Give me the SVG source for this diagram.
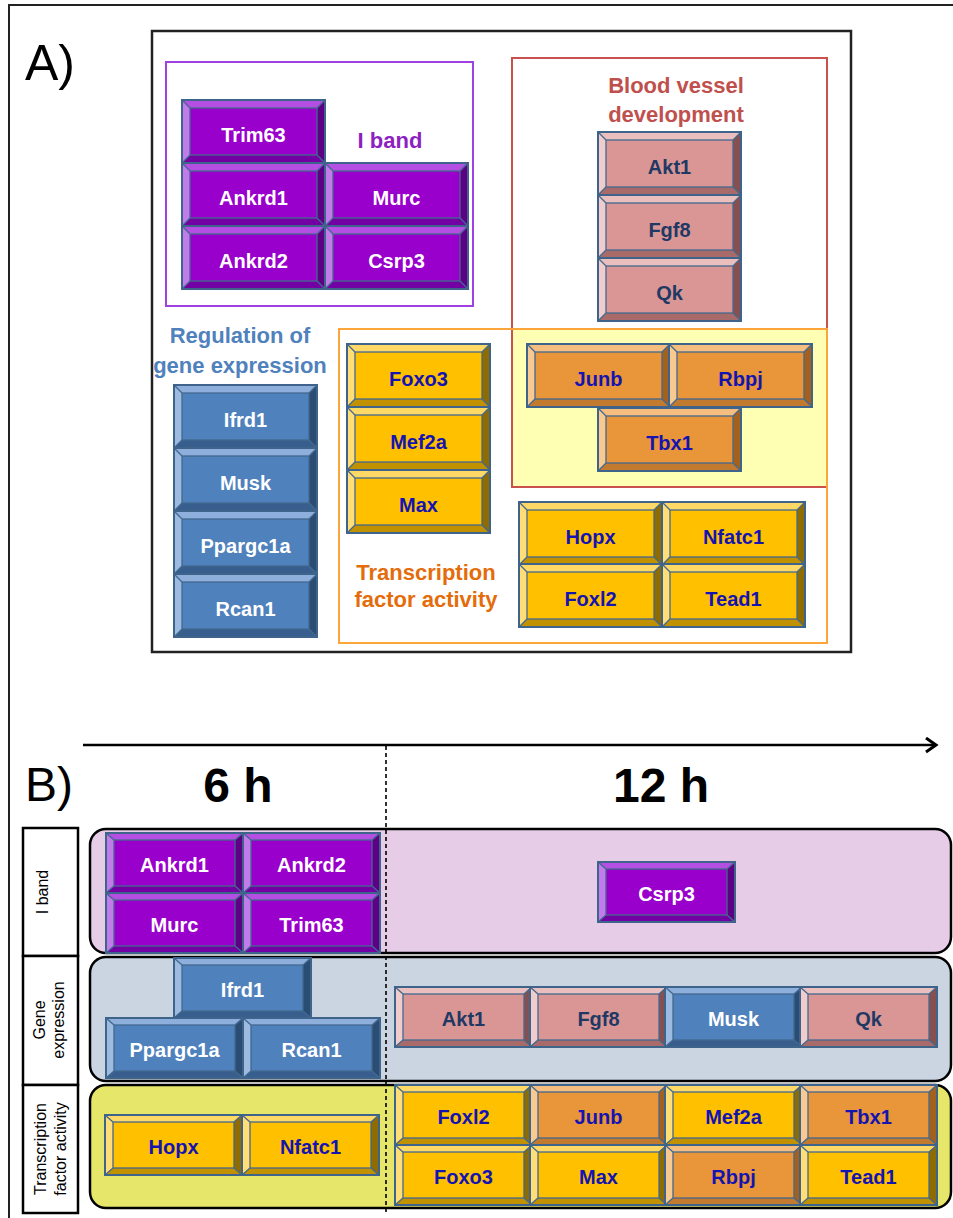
<svg xmlns="http://www.w3.org/2000/svg" xmlns:xlink="http://www.w3.org/1999/xlink" width="953" height="1218" viewBox="0 0 953 1218">
<style>
.frame{fill:none;stroke:#222;stroke-width:2}
.boxA{fill:none;stroke:#222;stroke-width:2.5}
.bf{fill:none;stroke:#42698F;stroke-width:1.3}
.bl{fill:none;stroke:#42698F;stroke-width:1.3}
.bo{fill:none;stroke:#3E648C;stroke-width:2}
.purple{--f:#9900CC;--t:#B54FE3;--l:#C27BEB;--r:#5E0085;--b:#7200A3}
.blue{--f:#4F81BD;--t:#8EAEDB;--l:#9DBBE0;--r:#2B4C73;--b:#385E8E}
.pink{--f:#D99694;--t:#EBBFBE;--l:#F0CDCC;--r:#85504F;--b:#A86B6A}
.gold{--f:#FFC000;--t:#FFD966;--l:#FFDD77;--r:#8F6C00;--b:#C29100}
.orange{--f:#E99539;--t:#F5BE7E;--l:#F8C991;--r:#A4611D;--b:#C27A2E}
.t{font-family:"Liberation Sans",Arial,sans-serif;font-weight:bold;font-size:20px;text-anchor:middle}
.tw{fill:#fff}
.tn{fill:#1F3864}
.tb{fill:#1414B0}
.lbl{font-family:"Liberation Sans",Arial,sans-serif;font-weight:bold;font-size:22px;text-anchor:middle}
.big{font-family:"Liberation Sans",Arial,sans-serif;font-size:50px;fill:#000}
.hdr{font-family:"Liberation Sans",Arial,sans-serif;font-weight:bold;font-size:48px;text-anchor:middle;fill:#000}
.side{font-family:"Liberation Sans",Arial,sans-serif;font-size:16px;text-anchor:middle;fill:#000}
.cell{fill:#fff;stroke:#000;stroke-width:2.5}
.row{stroke:#000;stroke-width:2.5}
</style>
<defs>
<g id="bevA">
<rect width="143" height="63" style="fill:var(--f)"/>
<polygon points="0,0 143,0 135,8 8,8" style="fill:var(--t)"/>
<polygon points="0,0 8,8 8,55 0,63" style="fill:var(--l)"/>
<polygon points="143,0 143,63 135,55 135,8" style="fill:var(--r)"/>
<polygon points="0,63 8,55 135,55 143,63" style="fill:var(--b)"/>
<rect x="8" y="8" width="127" height="47" class="bf"/>
<path d="M0,0L8,8M143,0L135,8M0,63L8,55M143,63L135,55" class="bl"/>
<rect width="143" height="63" class="bo"/>
</g>
<g id="bevB">
<rect width="137" height="60" style="fill:var(--f)"/>
<polygon points="0,0 137,0 129,7 8,7" style="fill:var(--t)"/>
<polygon points="0,0 8,7 8,53 0,60" style="fill:var(--l)"/>
<polygon points="137,0 137,60 129,53 129,7" style="fill:var(--r)"/>
<polygon points="0,60 8,53 129,53 137,60" style="fill:var(--b)"/>
<rect x="8" y="7" width="121" height="46" class="bf"/>
<path d="M0,0L8,7M137,0L129,7M0,60L8,53M137,60L129,53" class="bl"/>
<rect width="137" height="60" class="bo"/>
</g>
<marker id="arrowhead" markerUnits="userSpaceOnUse" markerWidth="16" markerHeight="18" refX="12" refY="8" orient="auto">
<path d="M2,1L12,8L2,15" fill="none" stroke="#000" stroke-width="3"/>
</marker>
</defs>

<rect width="953" height="1218" fill="#fff"/>
<path d="M953,5H9V1218" class="frame"/>

<!-- Panel A -->
<text class="big" x="25" y="80">A)</text>
<rect x="152" y="31" width="699" height="621" class="boxA"/>

<g id="A-iband-group">
<rect x="166" y="62" width="307" height="244" fill="none" stroke="#A040E0" stroke-width="2"/>
<text class="lbl" x="390" y="148" fill="#8E1FC2">I band</text>
</g>
<g id="A-tf-group">
<rect x="512" y="329" width="315" height="158" fill="#FFFFB3"/>
</g>
<g id="A-blood-group">
<rect x="512" y="58" width="315" height="429" fill="none" stroke="#C9504D" stroke-width="2"/>
<text class="lbl" x="676" y="93" fill="#C0504D">Blood vessel</text>
<text class="lbl" x="676" y="122" fill="#C0504D">development</text>
</g>
<g id="A-tf-frame">
<rect x="339" y="329" width="488" height="314" fill="none" stroke="#FBA53A" stroke-width="2"/>
<text class="lbl" x="426" y="580" fill="#E46C0A">Transcription</text>
<text class="lbl" x="426" y="607" fill="#E46C0A">factor activity</text>
</g>
<g id="A-gene-group">
<text class="lbl" x="240" y="343" fill="#4F81BD">Regulation of</text>
<text class="lbl" x="240" y="373" fill="#4F81BD">gene expression</text>
</g>

<g id="A-Trim63"><use href="#bevA" x="182" y="100" class="purple"/><text class="t tw" x="253.5" y="142">Trim63</text></g>
<g id="A-Ankrd1"><use href="#bevA" x="182" y="163" class="purple"/><text class="t tw" x="253.5" y="205">Ankrd1</text></g>
<g id="A-Ankrd2"><use href="#bevA" x="182" y="226" class="purple"/><text class="t tw" x="253.5" y="268">Ankrd2</text></g>
<g id="A-Murc"><use href="#bevA" x="325" y="163" class="purple"/><text class="t tw" x="396.5" y="205">Murc</text></g>
<g id="A-Csrp3"><use href="#bevA" x="325" y="226" class="purple"/><text class="t tw" x="396.5" y="268">Csrp3</text></g>

<g id="A-Akt1"><use href="#bevA" x="598" y="132" class="pink"/><text class="t tn" x="669.5" y="174">Akt1</text></g>
<g id="A-Fgf8"><use href="#bevA" x="598" y="195" class="pink"/><text class="t tn" x="669.5" y="237">Fgf8</text></g>
<g id="A-Qk"><use href="#bevA" x="598" y="258" class="pink"/><text class="t tn" x="669.5" y="300">Qk</text></g>

<g id="A-Ifrd1"><use href="#bevA" x="174" y="385" class="blue"/><text class="t tw" x="245.5" y="427">Ifrd1</text></g>
<g id="A-Musk"><use href="#bevA" x="174" y="448" class="blue"/><text class="t tw" x="245.5" y="490">Musk</text></g>
<g id="A-Ppargc1a"><use href="#bevA" x="174" y="511" class="blue"/><text class="t tw" x="245.5" y="553">Ppargc1a</text></g>
<g id="A-Rcan1"><use href="#bevA" x="174" y="574" class="blue"/><text class="t tw" x="245.5" y="616">Rcan1</text></g>

<g id="A-Foxo3"><use href="#bevA" x="347" y="344" class="gold"/><text class="t tb" x="418.5" y="386">Foxo3</text></g>
<g id="A-Mef2a"><use href="#bevA" x="347" y="407" class="gold"/><text class="t tb" x="418.5" y="449">Mef2a</text></g>
<g id="A-Max"><use href="#bevA" x="347" y="470" class="gold"/><text class="t tb" x="418.5" y="512">Max</text></g>

<g id="A-Junb"><use href="#bevA" x="527" y="344" class="orange"/><text class="t tb" x="598.5" y="386">Junb</text></g>
<g id="A-Rbpj"><use href="#bevA" x="669" y="344" class="orange"/><text class="t tb" x="740.5" y="386">Rbpj</text></g>
<g id="A-Tbx1"><use href="#bevA" x="598" y="408" class="orange"/><text class="t tb" x="669.5" y="450">Tbx1</text></g>

<g id="A-Hopx"><use href="#bevA" x="519" y="502" class="gold"/><text class="t tb" x="590.5" y="544">Hopx</text></g>
<g id="A-Nfatc1"><use href="#bevA" x="662" y="502" class="gold"/><text class="t tb" x="733.5" y="544">Nfatc1</text></g>
<g id="A-Foxl2"><use href="#bevA" x="519" y="564" class="gold"/><text class="t tb" x="590.5" y="606">Foxl2</text></g>
<g id="A-Tead1"><use href="#bevA" x="662" y="564" class="gold"/><text class="t tb" x="733.5" y="606">Tead1</text></g>

<!-- Panel B -->
<text class="big" x="25" y="801" style="font-size:48px">B)</text>
<text class="hdr" x="238" y="802">6 h</text>
<text class="hdr" x="661" y="802">12 h</text>

<g id="B-label-iband">
<rect x="23" y="828" width="55" height="128" class="cell"/>
<text class="side" transform="translate(0,892) rotate(-90)" x="0" y="48">I band</text>
</g>
<g id="B-label-gene">
<rect x="23" y="956" width="55" height="129" class="cell"/>
<text class="side" transform="translate(0,1020) rotate(-90)" x="0" y="45">Gene</text>
<text class="side" transform="translate(0,1020) rotate(-90)" x="0" y="64">expression</text>
</g>
<g id="B-label-tf">
<rect x="23" y="1085" width="55" height="128" class="cell"/>
<text class="side" transform="translate(0,1149) rotate(-90)" x="0" y="46">Transcription</text>
<text class="side" transform="translate(0,1149) rotate(-90)" x="0" y="66">factor activity</text>
</g>

<g id="B-row-iband"><rect x="90" y="829" width="861" height="124" rx="16" class="row" fill="#E7CCE7"/></g>
<g id="B-row-gene"><rect x="90" y="957" width="861" height="124" rx="16" class="row" fill="#CAD5E1"/></g>
<g id="B-row-tf"><rect x="90" y="1085" width="861" height="123" rx="16" class="row" fill="#E6E66B"/></g>

<g id="B-Ankrd1"><use href="#bevB" x="106" y="833" class="purple"/><text class="t tw" x="174.5" y="872">Ankrd1</text></g>
<g id="B-Ankrd2"><use href="#bevB" x="243" y="833" class="purple"/><text class="t tw" x="311.5" y="872">Ankrd2</text></g>
<g id="B-Murc"><use href="#bevB" x="106" y="893" class="purple"/><text class="t tw" x="174.5" y="932">Murc</text></g>
<g id="B-Trim63"><use href="#bevB" x="243" y="893" class="purple"/><text class="t tw" x="311.5" y="932">Trim63</text></g>
<g id="B-Csrp3"><use href="#bevB" x="598" y="862" class="purple"/><text class="t tw" x="666.5" y="901">Csrp3</text></g>

<g id="B-Ifrd1"><use href="#bevB" x="174" y="958" class="blue"/><text class="t tw" x="242.5" y="997">Ifrd1</text></g>
<g id="B-Ppargc1a"><use href="#bevB" x="106" y="1018" class="blue"/><text class="t tw" x="174.5" y="1057">Ppargc1a</text></g>
<g id="B-Rcan1"><use href="#bevB" x="243" y="1018" class="blue"/><text class="t tw" x="311.5" y="1057">Rcan1</text></g>
<g id="B-Akt1"><use href="#bevB" x="395" y="987" class="pink"/><text class="t tn" x="463.5" y="1026">Akt1</text></g>
<g id="B-Fgf8"><use href="#bevB" x="530" y="987" class="pink"/><text class="t tn" x="598.5" y="1026">Fgf8</text></g>
<g id="B-Musk"><use href="#bevB" x="665" y="987" class="blue"/><text class="t tw" x="733.5" y="1026">Musk</text></g>
<g id="B-Qk"><use href="#bevB" x="800" y="987" class="pink"/><text class="t tn" x="868.5" y="1026">Qk</text></g>

<g id="B-Hopx"><use href="#bevB" x="105" y="1115" class="gold"/><text class="t tb" x="173.5" y="1154">Hopx</text></g>
<g id="B-Nfatc1"><use href="#bevB" x="242" y="1115" class="gold"/><text class="t tb" x="310.5" y="1154">Nfatc1</text></g>
<g id="B-Foxl2"><use href="#bevB" x="395" y="1085" class="gold"/><text class="t tb" x="463.5" y="1124">Foxl2</text></g>
<g id="B-Junb"><use href="#bevB" x="530" y="1085" class="orange"/><text class="t tb" x="598.5" y="1124">Junb</text></g>
<g id="B-Mef2a"><use href="#bevB" x="665" y="1085" class="gold"/><text class="t tb" x="733.5" y="1124">Mef2a</text></g>
<g id="B-Tbx1"><use href="#bevB" x="800" y="1085" class="orange"/><text class="t tb" x="868.5" y="1124">Tbx1</text></g>
<g id="B-Foxo3"><use href="#bevB" x="395" y="1145" class="gold"/><text class="t tb" x="463.5" y="1184">Foxo3</text></g>
<g id="B-Max"><use href="#bevB" x="530" y="1145" class="gold"/><text class="t tb" x="598.5" y="1184">Max</text></g>
<g id="B-Rbpj"><use href="#bevB" x="665" y="1145" class="orange"/><text class="t tb" x="733.5" y="1184">Rbpj</text></g>
<g id="B-Tead1"><use href="#bevB" x="800" y="1145" class="gold"/><text class="t tb" x="868.5" y="1184">Tead1</text></g>

<g id="connectors">
<line x1="83" y1="745" x2="936" y2="745" stroke="#000" stroke-width="2.5" marker-end="url(#arrowhead)"/>
<line x1="386" y1="746" x2="386" y2="1212" stroke="#000" stroke-width="1.6" stroke-dasharray="4,3"/>
</g>
</svg>
